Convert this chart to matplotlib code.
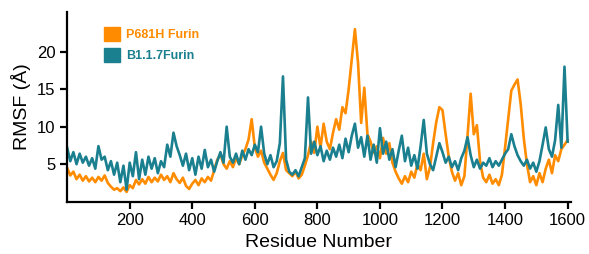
import matplotlib.pyplot as plt
from matplotlib.patches import Patch

plt.rcParams['font.family'] = ['Liberation Sans', 'DejaVu Sans']

# residue numbers, sampled every 10 residues
residues = list(range(0, 1601, 10))

# RMSF (Å)
p681h = [4.5, 3.5, 4.0, 3.0, 3.6, 2.8, 3.4, 2.7, 3.2, 2.6,
         3.3, 2.8, 3.5, 2.5, 2.0, 1.6, 1.8, 1.4, 1.9, 1.3,
         2.2, 1.8, 2.9, 2.3, 3.0, 2.4, 3.3, 2.6, 3.2, 2.7,
         3.6, 2.9, 3.4, 2.6, 3.8, 3.0, 2.5, 3.2, 2.1, 1.7,
         2.4, 2.9, 2.2, 3.1, 2.6, 3.3, 2.8, 4.2, 5.6, 6.3,
         5.0, 4.4, 5.4, 4.6, 5.8, 5.0, 6.2, 7.0, 8.3, 11.0,
         7.2, 6.0, 6.8, 5.2, 4.4, 3.6, 2.9, 3.8, 5.4, 6.5,
         4.2, 3.8, 3.4, 4.0, 3.1, 3.6, 4.8, 6.2, 8.0, 6.5,
         10.0, 7.2, 10.4, 8.0, 7.0, 9.2, 11.0, 9.6, 12.6, 11.8,
         15.0, 19.0, 23.0, 18.5, 10.5, 15.2, 9.0, 8.0, 6.5, 7.4,
         5.8, 8.5, 6.4, 7.8, 5.2, 4.0, 3.1, 2.4, 3.4, 2.6,
         4.0, 3.2, 5.0, 4.2, 6.4, 3.0, 4.6, 7.8, 10.6, 12.6,
         12.2, 9.0, 6.0, 4.0, 2.8, 3.8, 2.2, 3.4, 8.8, 14.4,
         9.0, 10.2, 5.4, 3.2, 2.6, 3.6, 2.4, 3.0, 2.2, 3.6,
         7.2, 11.0, 14.8, 15.6, 16.3, 13.0, 8.4, 5.0, 2.6, 3.4,
         2.2, 3.8, 2.6, 4.4, 5.6, 3.8, 6.2, 5.4, 7.0, 7.6,
         8.2]

b117 = [7.2, 5.4, 6.6, 5.0, 6.4, 5.2, 6.0, 4.8, 5.8, 4.4,
        7.4, 5.6, 6.0, 4.2, 5.4, 3.6, 5.2, 2.6, 4.8, 1.6,
        5.2, 3.4, 6.6, 3.0, 5.6, 3.6, 6.0, 4.4, 5.8, 3.8,
        5.4, 4.6, 7.6, 6.0, 9.2, 7.4, 6.2, 4.8, 6.4, 4.2,
        5.8, 3.6, 6.0, 4.4, 6.9, 4.6, 5.6, 4.0, 5.4, 6.6,
        5.2, 10.0, 6.0, 5.2, 6.4, 5.0, 6.8, 5.6, 7.0, 6.2,
        7.6, 6.6, 10.0, 6.4, 5.0, 6.2, 4.6, 5.4, 7.8, 16.7,
        5.6, 4.0, 3.6, 4.2, 3.4, 4.6, 5.8, 13.9, 6.4, 8.0,
        6.2, 7.4, 5.4, 6.8, 5.6, 7.2, 6.0, 7.6, 5.8, 8.4,
        6.6, 8.8, 10.4, 7.2, 8.6, 6.0, 8.8, 5.6, 7.6, 5.2,
        9.8, 6.4, 8.0, 5.6, 7.0, 4.6, 6.8, 8.8, 5.4, 7.2,
        4.8, 6.2, 4.4, 7.4, 10.9, 6.4, 5.0, 4.2, 6.0, 7.8,
        6.6, 5.2, 6.0, 4.6, 5.4, 4.2, 5.8, 6.8, 8.6, 6.2,
        4.6, 5.6, 4.4, 5.2, 4.8, 5.8, 4.6, 5.4, 4.8, 5.6,
        6.4, 7.0, 9.0, 7.4, 6.2, 5.4, 4.8, 5.6, 4.4, 5.2,
        4.0, 5.4, 7.6, 9.9, 7.0, 6.0, 8.2, 12.9, 7.2, 18.0,
        8.0]

names = ['P681H Furin', 'B1.1.7Furin']
colors = ['#FF8C00', '#1A7F8E']
x_ticks = [200, 400, 600, 800, 1000, 1200, 1400, 1600]
y_ticks = [5, 10, 15, 20]

fig = plt.figure(figsize=(5.89, 2.54), dpi=100)
ax = fig.add_axes([0.114, 0.206, 0.855, 0.747])

ax.plot(residues, p681h, color=colors[0], lw=1.9)
ax.plot(residues, b117, color=colors[1], lw=1.9)

ax.set_xlim(0, 1610)
ax.set_ylim(0, 25.3)
ax.set_xticks(x_ticks)
ax.set_yticks(y_ticks)
ax.tick_params(direction='out', length=5, width=1.6, labelsize=12)
for s in ['top', 'right']:
    ax.spines[s].set_visible(False)
for s in ['left', 'bottom']:
    ax.spines[s].set_linewidth(1.6)

ax.set_xlabel('Residue Number', fontsize=14)
ax.set_ylabel('RMSF (Å)', fontsize=14)

handles = [Patch(color=c) for c in colors]
leg = ax.legend(handles, names, loc='upper left', bbox_to_anchor=(0.05, 0.98),
                frameon=False, handlelength=1.3, handleheight=1.3,
                handletextpad=0.5, labelspacing=0.6, prop={'weight': 'bold', 'size': 9})
for t, c in zip(leg.get_texts(), colors):
    t.set_color(c)

plt.savefig('out.png', dpi=100)
